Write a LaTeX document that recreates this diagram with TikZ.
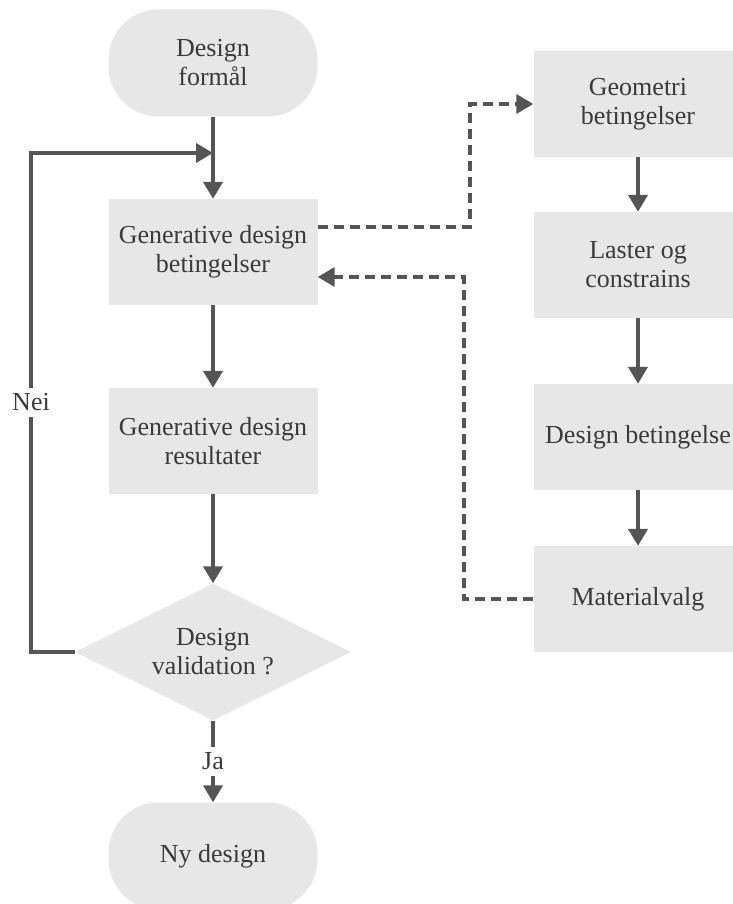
\documentclass[tikz,border=0pt]{standalone}
\usepackage{fontspec}
\setmainfont{Liberation Serif}
\usetikzlibrary{positioning,arrows.meta,shapes.geometric}
\definecolor{fcFill}{RGB}{231,231,231}
\definecolor{fcLine}{RGB}{85,85,85}
\definecolor{fcText}{RGB}{58,58,58}

\begin{document}
\begin{tikzpicture}[x=1pt,y=-1pt,
  every node/.style={font=\fontsize{26}{29}\selectfont, text=fcText, align=center},
  box/.style={fill=fcFill, minimum width=209pt, minimum height=106pt, inner sep=0pt},
  term/.style={box, rounded corners=50pt, minimum height=107pt},
  decision/.style={diamond, fill=fcFill, aspect=2, minimum width=276pt, minimum height=137pt, inner sep=0pt},
  flow/.style={fcLine, line width=4pt, -{Triangle[length=17pt,width=19pt]}},
  link/.style={flow, line width=3.5pt, dash pattern=on 10pt off 6pt},
  tag/.style={fill=white, inner sep=6pt}]
  \useasboundingbox (0,0) rectangle (732,904);

  % Main flow
  \node[term] (start) at (213,63) {Design\\formål};
  \node[box] (cond) at (213,252) {Generative design\\betingelser};
  \node[box] (res) at (213,441) {Generative design\\resultater};
  \node[decision] (valid) at (213,652) {Design\\validation ?};
  \node[term] (stop) at (213,856) {Ny design};

  % Conditions
  \node[box] (geo) at (638,104) {Geometri\\betingelser};
  \node[box] (loads) at (638,265) {Laster og\\constrains};
  \node[box] (dcond) at (638,437) {Design betingelse};
  \node[box] (mat) at (638,599) {Materialvalg};

  % Helper points
  \coordinate (loop) at (31,153);
  \coordinate (join) at (213,153);
  \coordinate (up) at (470,178);
  \coordinate (down) at (464,430);

  \draw[flow] (start) -- (cond);
  \draw[flow] (cond) -- (res);
  \draw[flow] (res) -- (valid);
  \draw[flow] (valid) -- node[tag] {Ja} (stop);
  \draw[flow] (valid.west) -| node[tag, pos=0.75] {Nei} (loop) -- (join);

  \draw[flow] (geo) -- (loads);
  \draw[flow] (loads) -- (dcond);
  \draw[flow] (dcond) -- (mat);

  % Dashed links
  \draw[link] ([yshift=25pt]cond.east) -| (up) |- (geo.west);
  \draw[link] (mat.west) -| (down) |- ([yshift=-25pt]cond.east);
\end{tikzpicture}
\end{document}
